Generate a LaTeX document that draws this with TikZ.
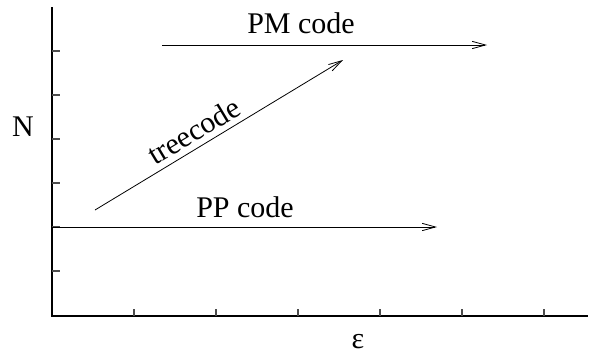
\documentclass[tikz,border=0pt]{standalone}
\usepackage{fontspec}
\setmainfont{Liberation Serif}
\usetikzlibrary{arrows.meta}
\begin{document}
\begin{tikzpicture}[x=0.75pt,y=-0.75pt,
  axisline/.style={line width=0.8pt, black},
  tickline/.style={line width=0.8pt, black!70},
  flow/.style={line width=0.6pt, -{Straight Barb[length=10pt,width=5.5pt,line width=0.6pt]}},
  lbl/.style={font=\fontsize{22.5}{26}\selectfont, inner sep=0pt}]
\useasboundingbox (0,0) rectangle (593,354);
% axes
\coordinate (ytop) at (52,7);
\coordinate (origin) at (52,316);
\coordinate (xend) at (588,316);
\draw[axisline] (ytop) -- (origin) -- (xend);
% y ticks
\foreach \y in {51,95,139,183,227,271}
  \draw[tickline] (52,\y) -- (60,\y);
% x ticks
\foreach \x in {134,216,298,380,462,544}
  \draw[tickline] (\x,316) -- (\x,309);
% axis labels
\node[lbl] (nlab) at (23,127) {N};
\node[lbl] (elab) at (358,342) {ε};
% arrows
\coordinate (ppS) at (52,227);
\coordinate (ppE) at (437,227);
\draw[flow] (ppS) -- (ppE);
\node[lbl, anchor=base] (pplab) at (245,217) {PP code};
\coordinate (pmS) at (162,45);
\coordinate (pmE) at (487,45);
\draw[flow] (pmS) -- (pmE);
\node[lbl, anchor=base] (pmlab) at (301,33) {PM code};
\coordinate (trS) at (95,210);
\coordinate (trE) at (343,60);
\draw[flow] (trS) -- (trE);
\node[lbl, rotate=31] (trlab) at (194,131) {treecode};
\end{tikzpicture}
\end{document}
